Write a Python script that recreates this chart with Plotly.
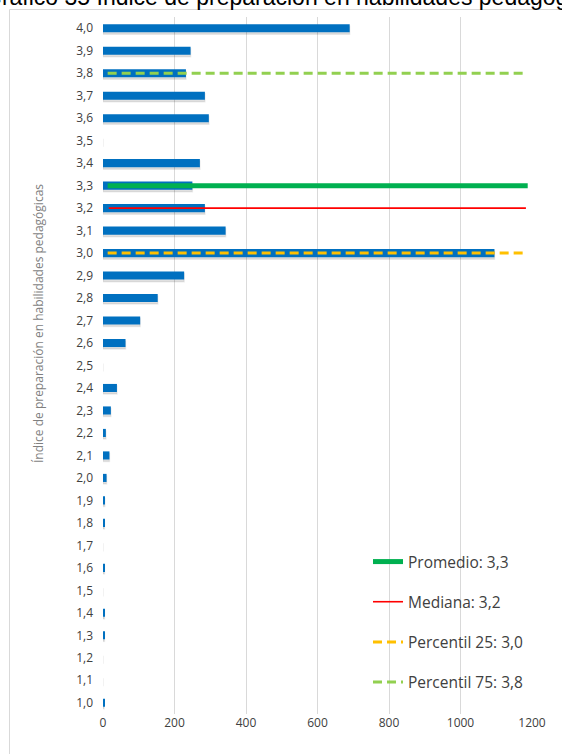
import plotly.graph_objects as go

# ---- data ----
categories = ["4,0", "3,9", "3,8", "3,7", "3,6", "3,5", "3,4", "3,3", "3,2", "3,1", "3,0",
              "2,9", "2,8", "2,7", "2,6", "2,5", "2,4", "2,3", "2,2", "2,1", "2,0",
              "1,9", "1,8", "1,7", "1,6", "1,5", "1,4", "1,3", "1,2", "1,1", "1,0"]
counts = [690, 245, 232, 285, 296, 0, 271, 250, 285, 343, 1095,
          227, 153, 104, 63, 0, 39, 22, 8, 18, 10,
          5, 4, 0, 4, 0, 4, 4, 0, 0, 3]

stat_names = ["Promedio: 3,3", "Mediana: 3,2", "Percentil 25: 3,0", "Percentil 75: 3,8"]
stat_cats = ["3,3", "3,2", "3,0", "3,8"]
stat_x_start = [13, 16, 13, 13]
stat_x_end = [1188, 1183, 1186, 1186]
stat_colors = ["#00B050", "#FF0000", "#FFC000", "#92D050"]
stat_widths = [5, 1.6, 3, 3]
stat_dash = ["solid", "solid", "9px,5px", "9px,5px"]

x_ticks = [0, 200, 400, 600, 800, 1000, 1200]

title_text = "Gráfico 35 Índice de preparación en habilidades pedagógicas"
ytitle_text = "Índice de preparación en habilidades pedagógicas"

# ---- figure ----
W, H = 562, 754
ML, MR, MT, MB = 103, 30, 17, 40
PW, PH = W - ML - MR, H - MT - MB

def px_x(p):
    return (p - ML) / PW

def px_y(p):
    return 1 - (p - MT) / PH

fig = go.Figure()

bar_w = 0.36
# soft shadow under the bars
fig.add_trace(go.Bar(
    y=categories, x=counts, orientation="h", width=bar_w, offset=-bar_w / 2 - 0.09,
    marker=dict(color="rgba(0,0,0,0.12)", line=dict(width=1.5, color="rgba(0,0,0,0.07)")),
    showlegend=False, hoverinfo="skip",
))
fig.add_trace(go.Bar(
    y=categories, x=counts, orientation="h", width=bar_w, offset=-bar_w / 2,
    marker=dict(color="#0070C0", line=dict(width=0)),
    showlegend=False,
))

for i, name in enumerate(stat_names):
    fig.add_trace(go.Scatter(
        x=[stat_x_start[i], stat_x_end[i]], y=[stat_cats[i], stat_cats[i]],
        mode="lines", name=name, legendgroup=name,
        line=dict(color=stat_colors[i], width=stat_widths[i], dash=stat_dash[i]),
    ))

fig.update_layout(
    width=W, height=H,
    margin=dict(l=ML, r=MR, t=MT, b=MB),
    paper_bgcolor="white", plot_bgcolor="white",
    barmode="overlay",
    font=dict(family="Open Sans", color="#404040", size=12),
    xaxis=dict(range=[0, 1200], tickvals=x_ticks, ticktext=[str(v) for v in x_ticks],
               showgrid=True, gridcolor="#D9D9D9", gridwidth=1, zeroline=False,
               showline=False, ticks="", tickfont=dict(size=12, color="#404040")),
    yaxis=dict(type="category", categoryorder="array", categoryarray=categories[::-1],
               showgrid=False, zeroline=False, showline=False, ticks="",
               ticklabelstandoff=9, tickfont=dict(size=12, color="#404040"),
               range=[-0.5, len(categories) - 0.5]),
    legend=dict(x=px_x(368), y=px_y(545), xanchor="left", yanchor="top",
                traceorder="grouped", tracegroupgap=17, bgcolor="rgba(255,255,255,0)",
                font=dict(size=15.5, color="#404040"), itemwidth=30),
    showlegend=True,
    annotations=[
        dict(text=title_text, xref="paper", yref="paper", x=px_x(-18), y=px_y(-2.5),
             xanchor="left", yanchor="middle", showarrow=False,
             font=dict(family="Liberation Sans", size=23, color="#000000")),
        dict(text=ytitle_text, xref="paper", yref="paper", x=px_x(38), y=px_y(324),
             xanchor="center", yanchor="middle", textangle=-90, showarrow=False,
             font=dict(size=12, color="#7F7F7F")),
    ],
    shapes=[
        dict(type="rect", xref="paper", yref="paper", x0=px_x(9.5), y0=px_y(800),
             x1=px_x(620), y1=px_y(9.5), line=dict(color="#D9D9D9", width=1),
             fillcolor="rgba(0,0,0,0)", layer="below"),
    ],
)

fig.write_html("out.html", config={"displayModeBar": False},
               post_script="document.body.style.margin='0';document.body.style.overflow='hidden';")
